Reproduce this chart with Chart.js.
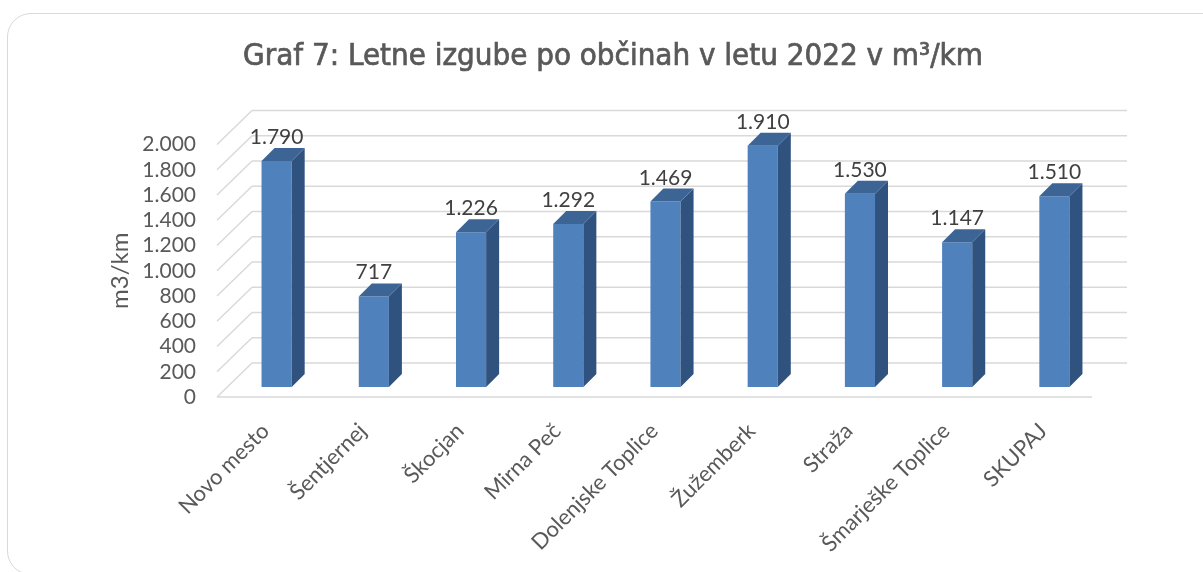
<!DOCTYPE html>
<html>
<head>
<meta charset="utf-8">
<script src="https://cdn.jsdelivr.net/npm/chart.js@4.4.1/dist/chart.umd.min.js"></script>
<style>
html, body { margin: 0; padding: 0; background: #fff; overflow: hidden; }
#wrap { position: relative; width: 1203px; height: 572px; }
#card { position: absolute; left: 7px; top: 13px; width: 1220px; height: 562px; border: 1.5px solid #d9d9d9; border-radius: 24px; box-sizing: border-box; }
canvas { position: absolute; left: 0; top: 0; }
</style>
</head>
<body>
<div id="wrap">
	<div id="card"></div>
	<canvas id="chart" width="1203" height="572"></canvas>
</div>
<script>
var categories = ['Novo mesto', 'Šentjernej', 'Škocjan', 'Mirna Peč', 'Dolenjske Toplice', 'Žužemberk', 'Straža', 'Šmarješke Toplice', 'SKUPAJ'];
var values = [1790, 717, 1226, 1292, 1469, 1910, 1530, 1147, 1510];
var yTicks = [0, 200, 400, 600, 800, 1000, 1200, 1400, 1600, 1800, 2000];
var chartTitle = 'Graf 7: Letne izgube po občinah v letu 2022 v m³/km';
var yTitle = 'm3/km';

var FONT = 'Lato';
var BAR_DEPTH = 13;   // 3d depth of a bar
var BACK = 24;        // back wall offset from the bar plane
var FRONT_X = -11;    // front floor edge offset
var FRONT_Y = 10;

function fmt(v) {
	return String(v).replace(/\B(?=(\d{3})+(?!\d))/g, '.');
}

function line(ctx, x1, y1, x2, y2) {
	ctx.beginPath();
	ctx.moveTo(x1, y1);
	ctx.lineTo(x2, y2);
	ctx.stroke();
}

// back wall, side wall and floor lines
var wallPlugin = {
	id: 'walls',
	beforeDatasetsDraw: function(chart) {
		var ctx = chart.ctx, a = chart.chartArea, ya = chart.scales.y;
		ctx.save();
		ctx.strokeStyle = '#d9d9d9';
		ctx.lineWidth = 1.5;
		yTicks.forEach(function(v) {
			var y = ya.getPixelForValue(v);
			line(ctx, a.left + FRONT_X, y + FRONT_Y, a.left + BACK, y - BACK);
			line(ctx, a.left + BACK, y - BACK, a.right + BACK, y - BACK);
		});
		var yb = ya.getPixelForValue(0);
		line(ctx, a.left + FRONT_X, yb + FRONT_Y, a.right + FRONT_X, yb + FRONT_Y);
		ctx.restore();
	}
};

// side + top faces and value labels
var barPlugin = {
	id: 'bars3d',
	afterDatasetsDraw: function(chart) {
		var ctx = chart.ctx;
		var meta = chart.getDatasetMeta(0);
		var d = BAR_DEPTH;
		ctx.save();
		meta.data.forEach(function(bar, i) {
			var w = bar.width, l = bar.x - w / 2, r = bar.x + w / 2;
			ctx.fillStyle = '#30527f';
			ctx.beginPath();
			ctx.moveTo(r, bar.y);
			ctx.lineTo(r + d, bar.y - d);
			ctx.lineTo(r + d, bar.base - d);
			ctx.lineTo(r, bar.base);
			ctx.closePath();
			ctx.fill();
			ctx.fillStyle = '#3c6596';
			ctx.beginPath();
			ctx.moveTo(l, bar.y);
			ctx.lineTo(l + d, bar.y - d);
			ctx.lineTo(r + d, bar.y - d);
			ctx.lineTo(r, bar.y);
			ctx.closePath();
			ctx.fill();

			ctx.fillStyle = '#404040';
			ctx.font = '21px ' + FONT;
			ctx.textAlign = 'center';
			ctx.textBaseline = 'alphabetic';
			ctx.fillText(fmt(values[i]), bar.x, bar.y - d - 4);
		});
		ctx.restore();
	}
};

// chart title centred on the card, axis title in the front plane
var titlePlugin = {
	id: 'titles',
	afterDraw: function(chart) {
		var ctx = chart.ctx, a = chart.chartArea;
		ctx.save();
		ctx.fillStyle = '#595959';
		ctx.strokeStyle = '#595959';
		ctx.lineWidth = 0.7;
		ctx.font = '31px "DejaVu Sans Condensed"';
		ctx.textAlign = 'center';
		ctx.textBaseline = 'alphabetic';
		ctx.fillText(chartTitle, 613, 65);
		ctx.strokeText(chartTitle, 613, 65);

		ctx.translate(120, (a.top + a.bottom) / 2 + FRONT_Y);
		ctx.rotate(-Math.PI / 2);
		ctx.font = '24px ' + FONT;
		ctx.textBaseline = 'middle';
		ctx.fillText(yTitle, 0, 0);
		ctx.restore();
	}
};

var config = {
	type: 'bar',
	data: {
		labels: categories,
		datasets: [{
			data: values,
			backgroundColor: '#4f81bd',
			borderWidth: 0,
			categoryPercentage: 1,
			barPercentage: 0.31
		}]
	},
	options: {
		responsive: false,
		animation: false,
		devicePixelRatio: 1,
		layout: { padding: { left: 0, right: 100, top: 134.5, bottom: 0 } },
		plugins: {
			legend: { display: false },
			tooltip: { enabled: false },
			title: { display: false }
		},
		scales: {
			x: {
				grid: { display: false, drawTicks: false },
				border: { display: false },
				ticks: {
					color: '#595959',
					font: { family: FONT, size: 22 },
					minRotation: 45,
					maxRotation: 45,
					autoSkip: false,
					padding: 31,
					labelOffset: -11
				},
				afterFit: function(s) { s.height = 185; }
			},
			y: {
				min: 0,
				max: 2000,
				grid: { display: false, drawTicks: false },
				border: { display: false },
				afterBuildTicks: function(s) {
					s.ticks = yTicks.map(function(v) { return { value: v }; });
				},
				ticks: {
					color: '#595959',
					font: { family: FONT, size: 21 },
					autoSkip: false,
					padding: 32,
					labelOffset: 10,
					callback: function(v) { return fmt(v); }
				},
				afterFit: function(s) { s.width = 228; }
			}
		}
	},
	plugins: [wallPlugin, barPlugin, titlePlugin]
};

window.chart_graf7 = new Chart(document.getElementById('chart'), config);
</script>
</body>
</html>
